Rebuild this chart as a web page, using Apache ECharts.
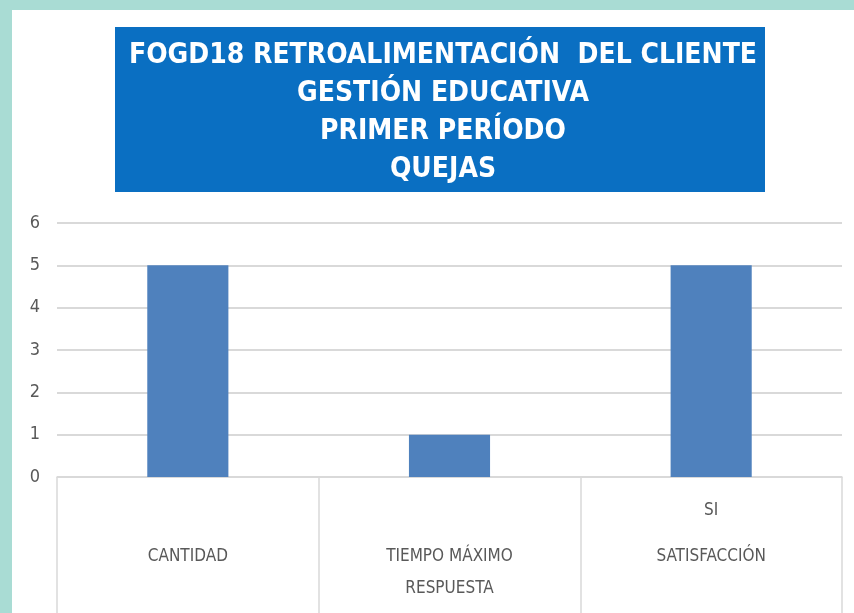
<!DOCTYPE html>
<html>
<head>
<meta charset="utf-8">
<script src="https://cdn.jsdelivr.net/npm/echarts@6/dist/echarts.min.js"></script>
<style>
  html, body { margin: 0; padding: 0; background: #A9DCD4; }
  #main { position: absolute; left: 12px; top: 10px; width: 842px; height: 603px; background: #fff; }
</style>
</head>
<body>
<div id="main"></div>
<script>
// datos del grafico
var titleLines = ['FOGD18 RETROALIMENTACIÓN  DEL CLIENTE', 'GESTIÓN EDUCATIVA', 'PRIMER PERÍODO', 'QUEJAS'];
var categories = ['CANTIDAD', 'TIEMPO MÁXIMO\nRESPUESTA', 'SATISFACCIÓN'];
var topLabels = ['', '', 'SI'];
var values = [5, 1, 5];
var yTicks = [0, 6, 1]; // min, max, interval

var narrowFont = '"Liberation Sans Narrow", "Arial Narrow", "DejaVu Sans Condensed", sans-serif';

var chart = echarts.init(document.getElementById('main'));

var option = {
  animation: false,
  graphic: [
    {
      type: 'rect',
      shape: { x: 103, y: 17, width: 650, height: 165 },
      style: { fill: '#0A6FC2' },
      z: 0
    }
  ],
  title: {
    text: titleLines.join('\n'),
    left: 426,
    top: 22,
    textAlign: 'center',
    textStyle: {
      color: '#fff',
      fontFamily: narrowFont,
      fontWeight: 'bold',
      fontSize: 28,
      lineHeight: 38
    },
    z: 5
  },
  grid: {
    left: 45,
    right: 12,
    top: 213,
    bottom: 136
  },
  xAxis: {
    type: 'category',
    data: categories,
    axisLine: { lineStyle: { color: '#D9D9D9', width: 1.5 } },
    axisTick: { show: true, length: 136, lineStyle: { color: '#D9D9D9', width: 1.5 } },
    axisLabel: {
      margin: 4,
      interval: 0,
      formatter: function (val, idx) {
        var parts = val.split('\n').map(function (p) { return '{b|' + p + '}'; });
        return '{a|' + (topLabels[idx] || ' ') + '}\n' + parts.join('\n');
      },
      rich: {
        a: { color: '#595959', fontSize: 17, lineHeight: 60, fontFamily: narrowFont },
        b: { color: '#595959', fontSize: 17, lineHeight: 32, fontFamily: narrowFont }
      }
    }
  },
  yAxis: {
    type: 'value',
    min: yTicks[0],
    max: yTicks[1],
    interval: yTicks[2],
    axisLine: { show: false },
    axisTick: { show: false },
    axisLabel: {
      color: '#595959',
      fontSize: 18,
      margin: 17,
      fontFamily: narrowFont
    },
    splitLine: { lineStyle: { color: '#D9D9D9', width: 2 } }
  },
  series: [
    {
      type: 'bar',
      data: values,
      barWidth: '31%',
      itemStyle: { color: '#4F81BD' }
    }
  ]
};

chart.setOption(option);
</script>
</body>
</html>
